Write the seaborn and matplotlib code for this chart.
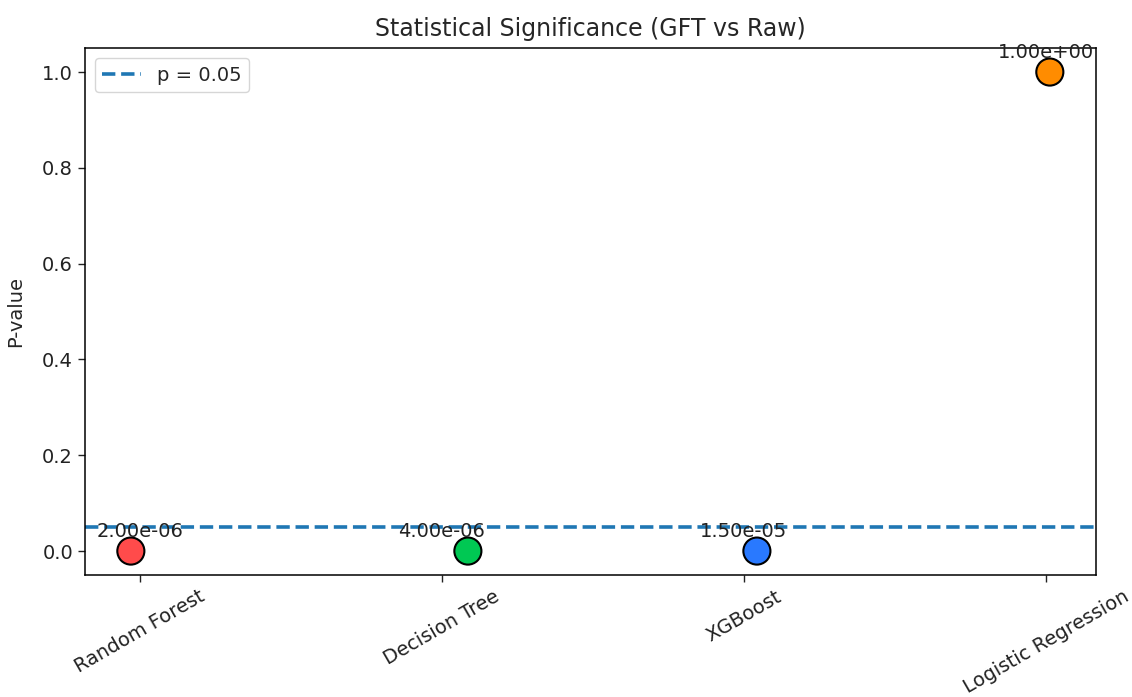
import numpy as np
import matplotlib
matplotlib.use("Agg")
import matplotlib.pyplot as plt
import seaborn as sns

# data
models = ["Random Forest", "Decision Tree", "XGBoost", "Logistic Regression"]
p_values = [2.0e-06, 4.0e-06, 1.5e-05, 1.0]
jitter = [-0.03, 0.086, 0.043, 0.013]
colors = ["#ff4b4b", "#00c853", "#2979ff", "#ff8c00"]
threshold = 0.05

sns.set_style("ticks")
plt.rcParams["font.family"] = ["DejaVu Sans"]

fig, ax = plt.subplots(figsize=(11.32, 6.97), dpi=100)

x = np.arange(len(models))
sns.scatterplot(x=x + np.array(jitter), y=p_values, hue=models, palette=colors,
                s=380, edgecolor="black", linewidth=1.5, legend=False, ax=ax, zorder=3)

ax.axhline(threshold, linestyle="--", linewidth=2.6, color="#1f77b4", label="p = 0.05")

for xi, p in zip(x, p_values):
    ax.text(xi, p + 0.02, f"{p:.2e}", ha="center", va="bottom", fontsize=14, color="#222222")

ax.set_xticks(x)
ax.set_xticklabels(models, rotation=30, fontsize=14)
ax.tick_params(axis="both", labelsize=14, length=5, width=1, colors="#222222")
ax.set_ylabel("P-value", fontsize=14, labelpad=12)
ax.set_title("Statistical Significance (GFT vs Raw)", fontsize=17, pad=9)
ax.legend(loc="upper left", fontsize=14, handlelength=2.0)

for s in ax.spines.values():
    s.set_visible(True)
    s.set_linewidth(1.1)
    s.set_color("black")

fig.subplots_adjust(left=0.075, right=0.968, top=0.931, bottom=0.175)
fig.savefig("out.png", dpi=100)
